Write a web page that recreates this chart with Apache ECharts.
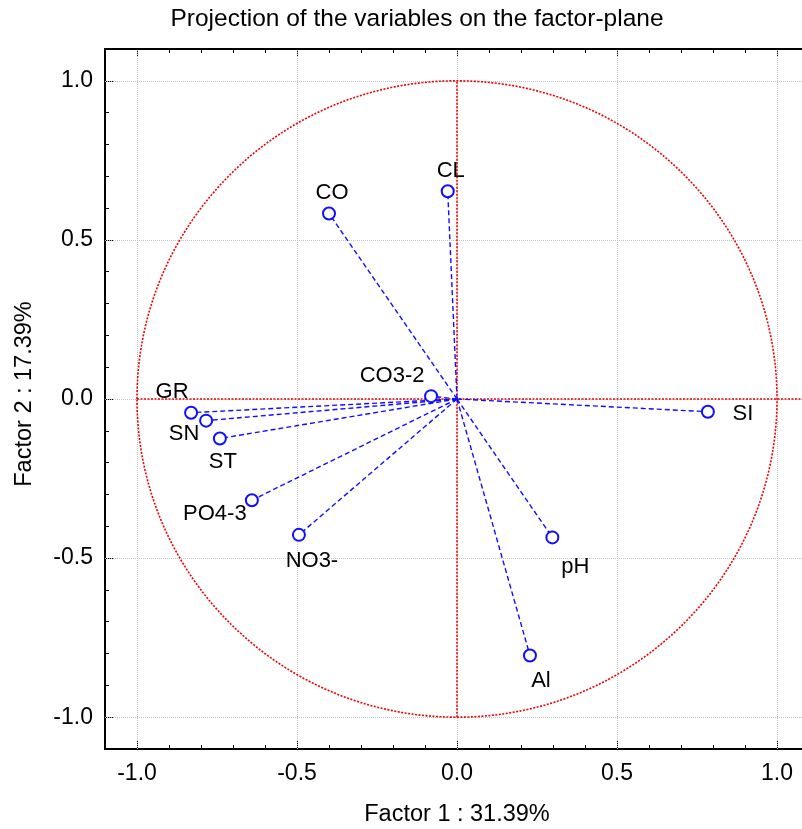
<!DOCTYPE html>
<html><head><meta charset="utf-8">
<script src="https://cdn.jsdelivr.net/npm/echarts@6/dist/echarts.min.js"></script>
<style>html,body{margin:0;padding:0;background:#fff;overflow:hidden}#c{width:830px;height:829px}</style>
</head><body><div id="c"></div>
<script>
// ---- data ----
const variables = ['GR', 'SN', 'ST', 'CO3-2', 'PO4-3', 'NO3-', 'CO', 'CL', 'pH', 'Al', 'SI'];
const factor1 = [-0.831, -0.784, -0.741, -0.081, -0.641, -0.494, -0.400, -0.029, 0.298, 0.228, 0.784];
const factor2 = [-0.043, -0.068, -0.124, 0.009, -0.318, -0.427, 0.583, 0.653, -0.435, -0.806, -0.040];
const majorTicks = [-1.0, -0.5, 0.0, 0.5, 1.0];
const titleText = 'Projection of the variables on the factor-plane';
const xName = 'Factor 1 : 31.39%';
const yName = 'Factor 2 : 17.39%';

// ---- style ----
const FONT = "'Liberation Sans', Arial, Helvetica, sans-serif";
const labelOffsets = {
  'GR': [-19, -21], 'SN': [-22, 13], 'ST': [3, 23], 'CO3-2': [-39, -20], 'PO4-3': [-37, 14],
  'NO3-': [13, 26], 'CO': [3, -21], 'CL': [3, -20], 'pH': [23, 30], 'Al': [11, 25], 'SI': [35, 2]
};
const BLUE = '#0f0fff';
const RED = '#ee0000';

const chart = echarts.init(document.getElementById('c'), null, {renderer: 'canvas'});

function majorFmt(v) {
  const r = Math.round(v * 2) / 2;
  if (Math.abs(v - r) > 1e-6) return '';
  return (r < 0 ? '-' : '') + Math.abs(r).toFixed(1);
}
function minorAxis(pos, showLabel, fontSize, margin) {
  return {
    type: 'value', position: pos, min: -1.1, max: 1.1, interval: 0.1,
    axisLine: {show: true, onZero: false, lineStyle: {color: '#000', width: 2}},
    axisTick: {show: true, inside: true, length: 4, lineStyle: {color: '#000', width: 1}},
    axisLabel: {show: showLabel, interval: 0, formatter: majorFmt, color: '#000', fontSize: fontSize,
      fontFamily: FONT, margin: margin},
    splitLine: {show: false}
  };
}
function majorAxis(pos) {
  return {
    type: 'value', position: pos, min: -1.1, max: 1.1, interval: 0.1,
    axisLine: {show: false, onZero: false},
    axisTick: {show: true, inside: true, length: 8, customValues: majorTicks, lineStyle: {color: '#000', width: 1}},
    axisLabel: {show: false},
    splitLine: {show: false}
  };
}

const series = [];
// light grey grid lines at major ticks
series.push({
  type: 'line', data: [], silent: true, z: 1,
  markLine: {
    silent: true, symbol: 'none', label: {show: false}, animation: false, z: 1,
    lineStyle: {type: 'dotted', color: '#c4c4c4', width: 1},
    data: majorTicks.map(v => ({xAxis: v})).concat(majorTicks.map(v => ({yAxis: v})))
  }
});
// red reference axes
series.push({type: 'line', data: [[-1, 0], [1.1, 0]], symbol: 'none', silent: true, z: 3,
  lineStyle: {color: RED, width: 1.6, type: [2, 1.5]}});
series.push({type: 'line', data: [[0, -1], [0, 1]], symbol: 'none', silent: true, z: 3,
  lineStyle: {color: RED, width: 1.6, type: [2, 1.5]}});
// unit circle
series.push({
  type: 'custom', data: [[0, 0]], silent: true, z: 3,
  renderItem: function (params, api) {
    const c = api.coord([0, 0]);
    const s = api.size([1, 1]);
    return {type: 'ellipse', shape: {cx: c[0], cy: c[1], rx: s[0], ry: s[1]},
      style: {fill: 'none', stroke: RED, lineWidth: 1.6, lineDash: [2, 1.5]}};
  }
});
// vectors
variables.forEach((name, i) => {
  series.push({type: 'line', data: [[0, 0], [factor1[i], factor2[i]]], symbol: 'none', silent: true, z: 4,
    lineStyle: {color: BLUE, width: 1.4, type: [5, 3]}});
});
// points
series.push({
  type: 'scatter', z: 5, symbol: 'emptyCircle', symbolSize: 12,
  itemStyle: {color: BLUE, borderColor: BLUE, borderWidth: 1.8, opacity: 1},
  data: variables.map((name, i) => ({
    name: name, value: [factor1[i], factor2[i]],
    label: {show: true, position: 'inside', offset: labelOffsets[name], formatter: name,
      color: '#000', fontSize: 22, fontFamily: FONT, textBorderWidth: 0, textBorderColor: 'transparent'}
  }))
});

chart.setOption({
  animation: false,
  backgroundColor: '#fff',
  grid: {left: 105, top: 49, width: 704, height: 700, containLabel: false},
  xAxis: [minorAxis('bottom', true, 23, 13), majorAxis('bottom'), minorAxis('top', false, 12, 8), majorAxis('top')],
  yAxis: [minorAxis('left', true, 23, 12), majorAxis('left')],
  series: series,
  graphic: [
    {type: 'text', x: 417, y: 19, style: {text: titleText, fontSize: 24.5, fontFamily: FONT, fill: '#000',
      textAlign: 'center', textVerticalAlign: 'middle'}},
    {type: 'text', x: 457, y: 815, style: {text: xName, fontSize: 23.5, fontFamily: FONT, fill: '#000',
      textAlign: 'center', textVerticalAlign: 'middle'}},
    {type: 'text', x: 25, y: 394, rotation: Math.PI / 2, style: {text: yName, fontSize: 23.5, fontFamily: FONT,
      fill: '#000', textAlign: 'center', textVerticalAlign: 'middle'}}
  ]
});
</script></body></html>
